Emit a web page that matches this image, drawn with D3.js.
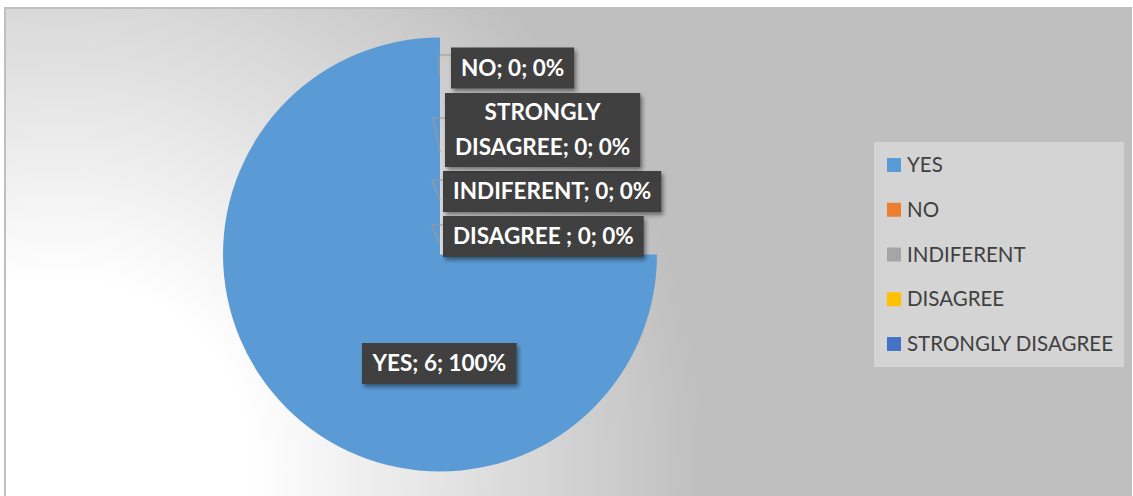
<!DOCTYPE html>
<html>
<head>
<meta charset="utf-8">
<script src="https://cdn.jsdelivr.net/npm/d3@7"></script>
<style>
  html, body { margin: 0; padding: 0; background: #ffffff; }
  svg { display: block; }
</style>
</head>
<body>
<svg id="chart" width="1133" height="496"></svg>
<script>
// ---- data ----
const categories = ["YES", "NO", "INDIFERENT", "DISAGREE", "STRONGLY DISAGREE"];
const labelNames = ["YES", "NO", "INDIFERENT", "DISAGREE ", "STRONGLY DISAGREE"];
const values = [6, 0, 0, 0, 0];
const colors = ["#5b9bd5", "#ed7d31", "#a5a5a5", "#ffc000", "#4472c4"];

// ---- layout ----
const W = 1133, H = 496;
const cx = 440, cy = 254.5, R = 217;
const svg = d3.select("#chart");
const defs = svg.append("defs");

// background gradient
const bg = defs.append("radialGradient").attr("id", "bgGrad")
  .attr("gradientUnits", "userSpaceOnUse")
  .attr("cx", 60).attr("cy", 470).attr("r", 760);
bg.append("stop").attr("offset", 0).attr("stop-color", "#ffffff");
bg.append("stop").attr("offset", 0.25).attr("stop-color", "#ffffff");
bg.append("stop").attr("offset", 0.85).attr("stop-color", "#bfbfbf");
bg.append("stop").attr("offset", 1).attr("stop-color", "#bfbfbf");

// label texture
const pat = defs.append("pattern").attr("id", "tex")
  .attr("width", 4).attr("height", 4).attr("patternUnits", "userSpaceOnUse");
pat.append("rect").attr("width", 4).attr("height", 4).attr("fill", "#3d3d3d");
pat.append("path").attr("d", "M0,4 L4,0").attr("stroke", "#474747").attr("stroke-width", 1);

// drop shadow
const f = defs.append("filter").attr("id", "shadow")
  .attr("x", "-10%").attr("y", "-20%").attr("width", "130%").attr("height", "160%");
f.append("feDropShadow").attr("dx", 2).attr("dy", 3).attr("stdDeviation", 2)
  .attr("flood-color", "#000").attr("flood-opacity", 0.45);

// clip (upper-right quadrant of the pie is hidden in the reference)
const clip = defs.append("clipPath").attr("id", "pieClip");
clip.append("path").attr("d",
  `M0,0 H${cx} V${cy} H${W} V${H} H0 Z`);

// chart area
svg.append("rect").attr("x", 5).attr("y", 8).attr("width", 1126).attr("height", 500)
  .attr("fill", "url(#bgGrad)").attr("stroke", "#bfbfbf").attr("stroke-width", 2);

// pie
const pie = d3.pie().sort(null).value(d => d.value);
const arc = d3.arc().innerRadius(0).outerRadius(R);
const data = categories.map((c, i) => ({ cat: c, name: labelNames[i], value: values[i], color: colors[i] }));
const arcs = pie(data);
const total = d3.sum(values);

svg.append("g").attr("clip-path", "url(#pieClip)")
  .append("g").attr("transform", `translate(${cx},${cy})`)
  .selectAll("path").data(arcs).join("path")
  .attr("d", arc).attr("fill", d => d.data.color);

// data labels (layout positions relative to pie centre)
const labelLayout = {
  "NO":                { x: 11,  yc: -186.5, lines: null, leader: [[11, -199.5], [-1, -199.5], [-1, -179.5]] },
  "STRONGLY DISAGREE": { x: 5,   yc: -124.5, lines: 2,    leader: [[5, -136.5], [-7, -136.5], [0, -102.5]] },
  "INDIFERENT":        { x: 3,   yc: -63,    lines: null, leader: [[3, -74.5], [-8, -74.5], [0, -54.5]] },
  "DISAGREE":          { x: 3,   yc: -18,    lines: null, leader: [[3, -29.5], [-8, -29.5], [-1, -11.5]] },
  "YES":               { x: -78, yc: 109,    lines: null, leader: null }
};
const fmtPct = v => Math.round(v / total * 100) + "%";
const labG = svg.append("g").attr("transform", `translate(${cx},${cy})`);
const padX = 10, lineH = 35, fontSize = 22.5;

// leaders first
arcs.forEach(a => {
  const L = labelLayout[a.data.cat];
  if (L.leader) {
    labG.append("path").attr("d", d3.line()(L.leader))
      .attr("fill", "none").attr("stroke", "#9a9a9a").attr("stroke-width", 1.2);
  }
});

arcs.forEach(a => {
  const L = labelLayout[a.data.cat];
  const full = `${a.data.name}; ${a.data.value}; ${fmtPct(a.data.value)}`;
  let lines = [full];
  if (L.lines === 2) {
    const sp = full.indexOf(" ");
    lines = [full.slice(0, sp), full.slice(sp + 1)];
  }
  const g = labG.append("g");
  const rect = g.append("rect").attr("fill", "url(#tex)").attr("filter", "url(#shadow)");
  const t = g.append("text")
    .attr("font-family", "Lato, 'Open Sans', sans-serif")
    .attr("font-weight", "bold").attr("font-size", fontSize)
    .attr("fill", "#ffffff").attr("text-anchor", "middle");
  const n = lines.length;
  lines.forEach((ln, i) => {
    t.append("tspan").attr("x", 0)
      .attr("y", L.yc + (i - (n - 1) / 2) * lineH)
      .attr("dy", "0.35em").text(ln);
  });
  const w = t.node().getBBox().width + padX * 2;
  const h = n === 1 ? 41 : 74;
  t.attr("transform", `translate(${L.x + w / 2},0)`);
  rect.attr("x", L.x).attr("y", L.yc - h / 2).attr("width", w).attr("height", h);
});

// legend
const lg = svg.append("g");
lg.append("rect").attr("x", 874).attr("y", 142).attr("width", 250).attr("height", 225)
  .attr("fill", "#d4d4d4");
const ly = d3.scalePoint().domain(categories).range([165, 344]);
const items = lg.selectAll("g.item").data(data).join("g").attr("class", "item")
  .attr("transform", d => `translate(887,${ly(d.cat)})`);
items.append("rect").attr("x", 0).attr("y", -7).attr("width", 14).attr("height", 14)
  .attr("fill", d => d.color);
items.append("text").attr("x", 20).attr("y", 0).attr("dy", "0.35em")
  .attr("font-family", "Lato, 'Open Sans', sans-serif").attr("font-size", 20.5)
  .attr("fill", "#404040").text(d => d.cat);
</script>
</body>
</html>
